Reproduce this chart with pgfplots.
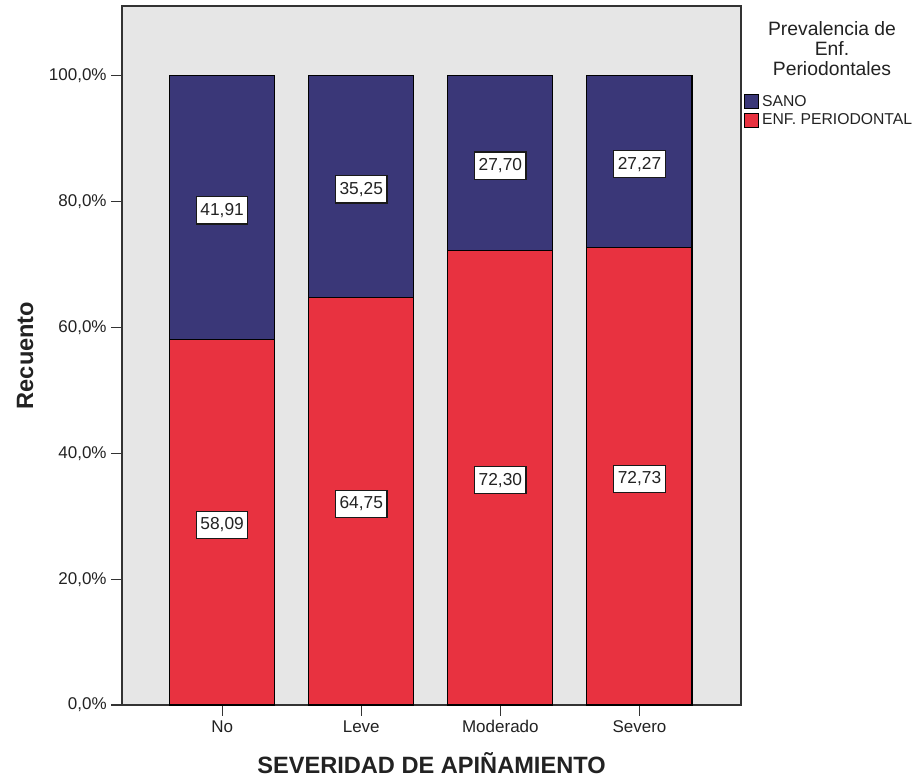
\documentclass[border=0pt]{standalone}
\usepackage{fontspec}
\setmainfont{Liberation Sans}
\usepackage{pgfplots}
\usepackage{pgfplotstable}
\pgfplotsset{compat=1.18}
\definecolor{sano}{HTML}{3A3778}
\definecolor{enf}{HTML}{E83240}
\definecolor{plotbg}{HTML}{E6E6E6}
\definecolor{txt}{HTML}{222222}

\tikzset{lbl/.style={draw=black!90, fill=white, line width=0.9pt, inner xsep=3pt, inner ysep=4.8pt,
    yshift=-2pt, font=\fontsize{13}{15}\selectfont, text=txt}}
\pgfplotsset{sqlegend/.style={legend image code/.code={%
  \draw[##1, draw=black, line width=0.5pt] (0pt,-5.25pt) rectangle (10.5pt,5.25pt);}}}

\pgfplotstableread{
x enf sano
0 58.09 41.91
1 64.75 35.25
2 72.30 27.70
3 72.73 27.27
}\datatable

\begin{document}
\begin{tikzpicture}
\begin{axis}[
  scale only axis,
  width=464.25pt, height=524.25pt,
  ybar stacked,
  bar width=0.755,
  xmin=-0.72, xmax=3.73,
  ymin=0, ymax=111.1,
  axis background/.style={fill=plotbg},
  axis line style={black!80, line width=0.9pt},
  xtick={0,1,2,3},
  xticklabels={No,Leve,Moderado,Severo},
  ytick={0,20,40,60,80,100},
  yticklabels={{0,0\%},{20,0\%},{40,0\%},{60,0\%},{80,0\%},{100,0\%}},
  tick align=outside,
  xtick pos=bottom, ytick pos=left,
  major tick length=8pt,
  tick style={black!80, line width=0.9pt},
  ticklabel style={font=\fontsize{12.75}{15}\selectfont, text=txt},
  xlabel={SEVERIDAD DE APIÑAMIENTO},
  ylabel={Recuento},
  xlabel style={at={(axis description cs:0.5,-0.083)}, anchor=center, font=\fontsize{17.7}{20}\selectfont\bfseries, text=txt},
  ylabel style={at={(axis description cs:-0.1567,0.5)}, anchor=center, font=\fontsize{17.7}{20}\selectfont\bfseries, text=txt},
  reverse legend,
  legend cell align=left,
  legend style={at={(rel axis cs:1.005,0.876)}, anchor=north west,
    draw=none, fill=none, inner sep=0pt, outer sep=0pt,
    font=\fontsize{11.8}{13}\selectfont, text=txt, row sep=0pt,
    /tikz/every odd column/.append style={column sep=0.5pt}},
]
\addplot[fill=enf, draw=black, line width=0.8pt, sqlegend]
  table[x=x, y=enf]{\datatable};
\addlegendentry{ENF. PERIODONTAL}
\addplot[fill=sano, draw=black, line width=0.8pt, sqlegend]
  table[x=x, y=sano]{\datatable};
\addlegendentry{SANO}

% anchors at the middle of each segment
\coordinate (r0) at (axis cs:0,29.045);
\coordinate (r1) at (axis cs:1,32.375);
\coordinate (r2) at (axis cs:2,36.150);
\coordinate (r3) at (axis cs:3,36.365);
\coordinate (b0) at (axis cs:0,79.045);
\coordinate (b1) at (axis cs:1,82.375);
\coordinate (b2) at (axis cs:2,86.150);
\coordinate (b3) at (axis cs:3,86.365);
\coordinate (ttl) at (rel axis cs:1.147,0.9385);
\end{axis}

% value boxes
\node[lbl] at (r0) {58,09};
\node[lbl] at (r1) {64,75};
\node[lbl] at (r2) {72,30};
\node[lbl] at (r3) {72,73};
\node[lbl] at (b0) {41,91};
\node[lbl] at (b1) {35,25};
\node[lbl] at (b2) {27,70};
\node[lbl] at (b3) {27,27};

% legend heading
\node[align=center, font=\fontsize{14.5}{15}\selectfont, text=txt]
  at (ttl) {Prevalencia de\\Enf.\\Periodontales};

\pgfresetboundingbox
\useasboundingbox (-91.5pt,-54.75pt) rectangle (598.5pt,528.75pt);
\end{tikzpicture}
\end{document}
